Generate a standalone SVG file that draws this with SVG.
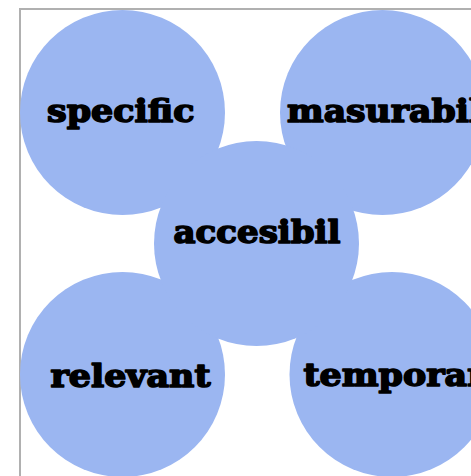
<svg xmlns="http://www.w3.org/2000/svg" width="471" height="476" viewBox="0 0 471 476">
  <style>
    .bubble { fill: #9bb6f1; }
    .label { font-family: "DejaVu Serif", "Liberation Serif", serif; font-weight: 900; font-size: 31px; fill: #000; stroke: #000; stroke-width: 1.6; stroke-linejoin: round; }
    .frame { fill: none; stroke: #b0b0b0; stroke-width: 2; }
  </style>
  <rect width="471" height="476" fill="#ffffff"/>
  <!-- outer frame (top and left edges visible) -->
  <path class="frame" d="M20,477 V9 H472"/>
  <g id="connectors"/>
  <g id="node-specific">
    <circle class="bubble" cx="122.5" cy="112.5" r="102.5"/>
  </g>
  <g id="node-masurabil">
    <circle class="bubble" cx="382.5" cy="112.5" r="102.5"/>
  </g>
  <g id="node-relevant">
    <circle class="bubble" cx="122.5" cy="374.5" r="102.5"/>
  </g>
  <g id="node-temporar">
    <circle class="bubble" cx="392" cy="374.5" r="102.5"/>
  </g>
  <g id="node-accesibil">
    <circle class="bubble" cx="256.5" cy="243.5" r="102.5"/>
  </g>
  <!-- labels on top of all bubbles -->
  <g id="labels">
    <text class="label" x="47" y="121.5" textLength="147.5" lengthAdjust="spacingAndGlyphs">specific</text>
    <text class="label" x="287" y="121.5" textLength="195" lengthAdjust="spacingAndGlyphs">masurabil</text>
    <text class="label" x="173.5" y="242.7" textLength="167" lengthAdjust="spacingAndGlyphs">accesibil</text>
    <text class="label" x="50.5" y="386.5" textLength="160" lengthAdjust="spacingAndGlyphs">relevant</text>
    <text class="label" x="303.5" y="385.5" textLength="182" lengthAdjust="spacingAndGlyphs">temporar</text>
  </g>
</svg>
